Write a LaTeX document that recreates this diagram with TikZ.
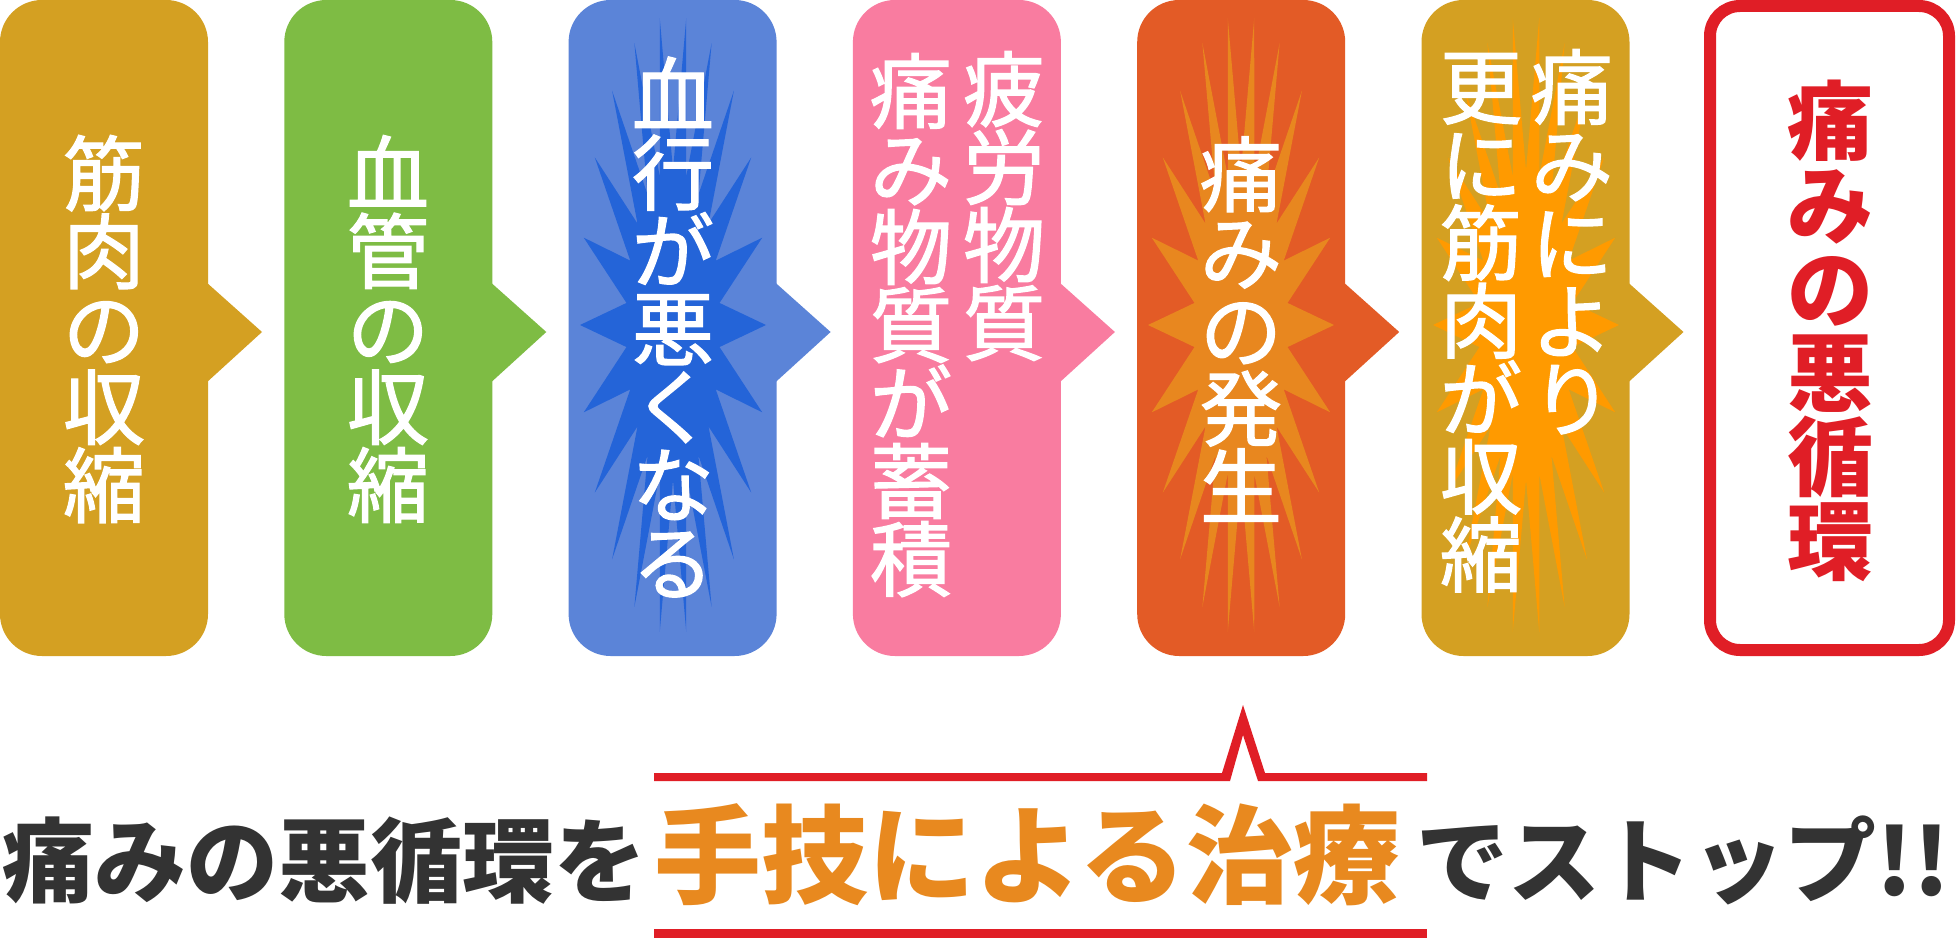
\documentclass[tikz,border=0pt]{standalone}
\usepackage{fontspec}
\newfontfamily\jpfont{Noto Sans CJK JP}
\newfontfamily\jpmedium[FakeBold=1.5]{Noto Sans CJK JP}
\definecolor{musclegold}{HTML}{D4A022}
\definecolor{vesselgreen}{HTML}{7EBC44}
\definecolor{flowblue}{HTML}{5B84D8}
\definecolor{starblue}{HTML}{2464D8}
\definecolor{fatiguepink}{HTML}{F97CA0}
\definecolor{painorange}{HTML}{E35B26}
\definecolor{starorange}{HTML}{E8871F}
\definecolor{staryellow}{HTML}{FF9A00}
\definecolor{cyclered}{HTML}{E01E26}
\definecolor{handorange}{HTML}{E8891F}
\definecolor{stopgray}{HTML}{333333}
\tikzset{
  tatetext/.style={text=white, align=center, inner sep=0pt,
    font=\jpmedium\fontsize{82}{78}\selectfont},
  stoptext/.style={text=stopgray, inner sep=0pt,
    font=\jpfont\bfseries\fontsize{92}{92}\selectfont}
}
\begin{document}
\begin{tikzpicture}[x=1pt,y=-1pt]
                        \fill[white] (0,0) rectangle (1957,939);
                        \useasboundingbox (0,0) rectangle (1957,939);
                        \foreach \col/\i in {musclegold/0, vesselgreen/1, flowblue/2, fatiguepink/3, painorange/4, musclegold/5}{
                          \fill[\col, rounded corners=42] ({\i*284.3},0) rectangle ({\i*284.3+208},656);
                          \fill[\col] ({\i*284.3+206},282) -- ({\i*284.3+262},332) -- ({\i*284.3+206},383) -- cycle;
                        }
                        \foreach \cx/\col in {673/starblue, 1241/starorange, 1526/staryellow}
                          \fill[\col] plot[samples at={0,...,43}, variable=\k] ({\cx+(93-46*mod(\k,2))*cos(\k*180/22)}, {325+(310-155*mod(\k,2))*sin(\k*180/22)}) -- cycle;
                        \draw[cyclered, line width=12, rounded corners=30] (1710,6) rectangle (1949,650);
                        \node[tatetext] (muscle) at (104,329) {筋\\肉\\の\\収\\縮};
                        \node[tatetext] (vessel) at (388,329) {血\\管\\の\\収\\縮};
                        \node[tatetext] (flow) at (673,327) {血\\行\\が\\悪\\く\\な\\る};
                        \node[tatetext, anchor=north] (fatigue) at (1004,51) {疲\\労\\物\\質};
                        \node[tatetext, anchor=north] (accum) at (911,53) {痛\\み\\物\\質\\が\\蓄\\積};
                        \node[tatetext] (pain) at (1241,329) {痛\\み\\の\\発\\生};
                        \node[tatetext, anchor=north] (painmore) at (1572,49) {痛\\み\\に\\よ\\り};
                        \node[tatetext, anchor=north] (contract) at (1481,53) {更\\に\\筋\\肉\\が\\収\\縮};
                        \node[tatetext, text=cyclered, font=\jpfont\bfseries\fontsize{86}{84}\selectfont] (cycle) at (1830,331) {痛\\み\\の\\悪\\循\\環};
                        \fill[cyclered] (654,773) -- (1222,773) -- (1243,705) -- (1265,773) -- (1427,773) -- (1427,781) -- (1258,781) -- (1243,735) -- (1230,781) -- (654,781) -- cycle;
                        \fill[cyclered] (654,929) rectangle (1427,938);
                        \node[stoptext, anchor=base west] (stopA) at (2,895) {痛みの悪循環を};
                        \node[stoptext, anchor=base west, text=handorange, font=\jpfont\bfseries\fontsize{107}{107}\selectfont] (stopB) at ([xshift=8pt]stopA.base east) {手技による治療};
                        \node[stoptext, anchor=base west] (stopC) at ([xshift=16pt]stopB.base east) {でストップ!!};
                    \end{tikzpicture}
\end{document}
